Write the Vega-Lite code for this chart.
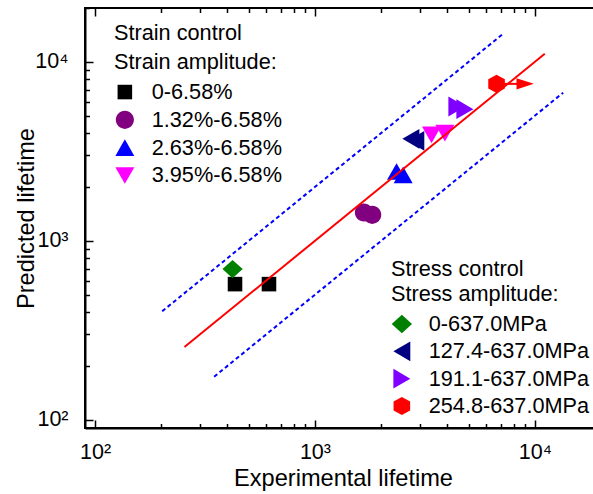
{
  "$schema": "https://vega.github.io/schema/vega-lite/v6.json",
  "width": 516,
  "height": 420,
  "autosize": {"type": "none"},
  "padding": {"left": 85, "top": 8, "right": 0, "bottom": 66},
  "background": "white",
  "config": {
    "font": "Liberation Sans",
    "view": {"stroke": "black", "strokeWidth": 2},
    "legend": {
      "labelFontSize": 21.7,
      "titleFontSize": 21.7,
      "titleFontWeight": "normal",
      "labelColor": "black",
      "titleColor": "black",
      "labelFont": "Liberation Sans",
      "titleFont": "Liberation Sans",
      "labelLimit": 0,
      "titleLimit": 0,
      "padding": 0,
      "offset": 0,
      "symbolStrokeWidth": 0,
      "symbolOpacity": 1
    }
  },
  "datasets": {
    "pts": [
      {"group": "strain", "series": "0-6.58%", "x": 433, "y": 573},
      {"group": "strain", "series": "0-6.58%", "x": 618, "y": 573},
      {"group": "strain", "series": "1.32%-6.58%", "x": 1670, "y": 1439},
      {"group": "strain", "series": "1.32%-6.58%", "x": 1822, "y": 1397},
      {"group": "strain", "series": "2.63%-6.58%", "x": 2351, "y": 2439},
      {"group": "strain", "series": "2.63%-6.58%", "x": 2519, "y": 2337},
      {"group": "strain", "series": "3.95%-6.58%", "x": 3390, "y": 3910},
      {"group": "strain", "series": "3.95%-6.58%", "x": 3899, "y": 3997},
      {"group": "stress", "series": "0-637.0MPa", "x": 422, "y": 695},
      {"group": "stress", "series": "127.4-637.0MPa", "x": 2731, "y": 3714},
      {"group": "stress", "series": "127.4-637.0MPa", "x": 2877, "y": 3620},
      {"group": "stress", "series": "191.1-637.0MPa", "x": 4421, "y": 5627},
      {"group": "stress", "series": "191.1-637.0MPa", "x": 4808, "y": 5443},
      {"group": "stress", "series": "254.8-637.0MPa", "x": 6699, "y": 7535}
    ],
    "lines": [
      {"line": "fit", "x": 255, "y": 255},
      {"line": "fit", "x": 11100, "y": 11100},
      {"line": "upper", "x": 202, "y": 404},
      {"line": "upper", "x": 7230, "y": 14460},
      {"line": "lower", "x": 348, "y": 174},
      {"line": "lower", "x": 13460, "y": 6730}
    ],
    "arrow": [
      {"part": "shaft", "x": 6699, "y": 7535},
      {"part": "shaft", "x": 9000, "y": 7535},
      {"part": "head", "x": 9895, "y": 7535}
    ]
  },
  "layer": [
    {
      "data": {"name": "pts"},
      "transform": [{"filter": "datum.group === 'strain'"}],
      "mark": {"type": "point", "filled": true, "opacity": 1, "size": 340},
      "encoding": {
        "x": {
          "field": "x", "type": "quantitative",
          "scale": {"type": "log", "domain": [90, 20000], "nice": false},
          "axis": {
            "orient": "bottom",
            "values": [100, 200, 300, 400, 500, 600, 700, 800, 900, 1000, 2000, 3000, 4000, 5000, 6000, 7000, 8000, 9000, 10000, 20000],
            "labelExpr": "datum.value == 100 ? '10²' : datum.value == 1000 ? '10³' : datum.value == 10000 ? '10⁴' : ''",
            "tickSize": {"condition": {"test": "indexof([100, 1000, 10000], datum.value) >= 0", "value": -8}, "value": -4.5},
            "labelPadding": 21,
            "labelFontSize": 21.5,
            "labelColor": "black",
            "labelFlush": false,
            "labelOverlap": false,
            "domainColor": "black",
            "domainWidth": 2,
            "tickColor": "black",
            "tickWidth": 1.5,
            "grid": false,
            "title": "Experimental lifetime",
            "titleFontSize": 23.6,
            "titleFontWeight": "normal",
            "titleColor": "black",
            "titleX": 258,
            "titleY": 57,
            "titleBaseline": "alphabetic",
            "titleAlign": "center"
          }
        },
        "y": {
          "field": "y", "type": "quantitative",
          "scale": {"type": "log", "domain": [90, 20000], "nice": false},
          "axis": {
            "values": [100, 200, 300, 400, 500, 600, 700, 800, 900, 1000, 2000, 3000, 4000, 5000, 6000, 7000, 8000, 9000, 10000, 20000],
            "labelExpr": "datum.value == 100 ? '10²' : datum.value == 1000 ? '10³' : datum.value == 10000 ? '10⁴' : ''",
            "tickSize": {"condition": {"test": "indexof([100, 1000, 10000], datum.value) >= 0", "value": -8}, "value": -4.5},
            "labelPadding": 25,
            "labelFontSize": 21.5,
            "labelColor": "black",
            "labelFlush": false,
            "labelOverlap": false,
            "domainColor": "black",
            "domainWidth": 2,
            "tickColor": "black",
            "tickWidth": 1.5,
            "grid": false,
            "title": "Predicted lifetime",
            "titleFontSize": 23.6,
            "titleFontWeight": "normal",
            "titleColor": "black",
            "titleX": -52,
            "titleY": 210,
            "titleAngle": 270,
            "titleBaseline": "alphabetic",
            "titleAlign": "center"
          }
        },
        "color": {
          "field": "series", "type": "nominal",
          "scale": {
            "domain": ["0-6.58%", "1.32%-6.58%", "2.63%-6.58%", "3.95%-6.58%"],
            "range": ["#000000", "#800080", "#0000ff", "#ff00ff"]
          },
          "legend": {
            "title": ["Strain control", "Strain amplitude:"],
            "orient": "none", "legendX": 29, "legendY": 15,
            "titleLineHeight": 28.5, "titlePadding": 8, "rowPadding": 4.8, "labelOffset": 16, "symbolSize": 340, "labelLimit": 0
          }
        },
        "shape": {
          "field": "series", "type": "nominal",
          "scale": {
            "domain": ["0-6.58%", "1.32%-6.58%", "2.63%-6.58%", "3.95%-6.58%"],
            "range": [
              "M-0.79,-0.79H0.79V0.79H-0.79Z",
              "M-0.98,0A0.98,0.98,0,1,0,0.98,0A0.98,0.98,0,1,0,-0.98,0Z",
              "M0,-0.9L1.03,0.9L-1.03,0.9Z",
              "M0,0.9L1.03,-0.9L-1.03,-0.9Z"
            ]
          },
          "legend": {
            "title": ["Strain control", "Strain amplitude:"],
            "orient": "none", "legendX": 29, "legendY": 15,
            "titleLineHeight": 28.5, "titlePadding": 8, "rowPadding": 4.8, "labelOffset": 16, "symbolSize": 340, "labelLimit": 0
          }
        }
      }
    },
    {
      "data": {"name": "pts"},
      "transform": [{"filter": "datum.group === 'stress'"}],
      "mark": {"type": "point", "filled": true, "opacity": 1, "size": 340},
      "encoding": {
        "x": {"field": "x", "type": "quantitative", "axis": null},
        "y": {"field": "y", "type": "quantitative"},
        "color": {
          "field": "series", "type": "nominal",
          "scale": {
            "domain": ["0-637.0MPa", "127.4-637.0MPa", "191.1-637.0MPa", "254.8-637.0MPa"],
            "range": ["#008000", "#000080", "#8000ff", "#ff0000"]
          },
          "legend": {
            "title": ["Stress control", "Stress amplitude:"],
            "orient": "none", "legendX": 306, "legendY": 251,
            "titleLineHeight": 25, "titlePadding": 7.5, "rowPadding": 4.3, "labelOffset": 16, "symbolSize": 340, "labelLimit": 0
          }
        },
        "shape": {
          "field": "series", "type": "nominal",
          "scale": {
            "domain": ["0-637.0MPa", "127.4-637.0MPa", "191.1-637.0MPa", "254.8-637.0MPa"],
            "range": [
              "M0,-1L1.1,0L0,1L-1.1,0Z",
              "M-0.92,0L0.92,-1.08L0.92,1.08Z",
              "M0.92,0L-0.92,-1.08L-0.92,1.08Z",
              "M0,-0.98L0.9,-0.49L0.9,0.49L0,0.98L-0.9,0.49L-0.9,-0.49Z"
            ]
          },
          "legend": {
            "title": ["Stress control", "Stress amplitude:"],
            "orient": "none", "legendX": 306, "legendY": 251,
            "titleLineHeight": 25, "titlePadding": 7.5, "rowPadding": 4.3, "labelOffset": 16, "symbolSize": 340, "labelLimit": 0
          }
        }
      }
    },
    {
      "data": {"name": "lines"},
      "transform": [{"filter": "datum.line === 'upper' || datum.line === 'lower'"}],
      "mark": {"type": "line", "color": "#0000ff", "strokeWidth": 2, "strokeDash": [4, 3]},
      "encoding": {
        "x": {"field": "x", "type": "quantitative", "axis": null},
        "y": {"field": "y", "type": "quantitative"},
        "detail": {"field": "line", "type": "nominal"}
      }
    },
    {
      "data": {"name": "lines"},
      "transform": [{"filter": "datum.line === 'fit'"}],
      "mark": {"type": "line", "color": "#ff0000", "strokeWidth": 2},
      "encoding": {
        "x": {"field": "x", "type": "quantitative", "axis": null},
        "y": {"field": "y", "type": "quantitative"}
      }
    },
    {
      "data": {"name": "arrow"},
      "transform": [{"filter": "datum.part === 'shaft'"}],
      "mark": {"type": "line", "color": "#ff0000", "strokeWidth": 2},
      "encoding": {
        "x": {"field": "x", "type": "quantitative", "axis": null},
        "y": {"field": "y", "type": "quantitative"}
      }
    },
    {
      "data": {"name": "arrow"},
      "transform": [{"filter": "datum.part === 'head'"}],
      "mark": {"type": "point", "filled": true, "opacity": 1, "color": "#ff0000", "size": 299, "shape": "M0,0L-2,-0.65L-2,0.65Z"},
      "encoding": {
        "x": {
          "field": "x", "type": "quantitative",
          "axis": {
            "orient": "top",
            "values": [100, 200, 300, 400, 500, 600, 700, 800, 900, 1000, 2000, 3000, 4000, 5000, 6000, 7000, 8000, 9000, 10000, 20000],
            "labels": false,
            "domain": false,
            "tickSize": {"condition": {"test": "indexof([100, 1000, 10000], datum.value) >= 0", "value": -8}, "value": -4.5},
            "tickColor": "black",
            "tickWidth": 1.5,
            "grid": false,
            "title": null
          }
        },
        "y": {"field": "y", "type": "quantitative"}
      }
    }
  ],
  "resolve": {
    "scale": {"color": "independent", "shape": "independent"},
    "axis": {"x": "independent"}
  }
}
